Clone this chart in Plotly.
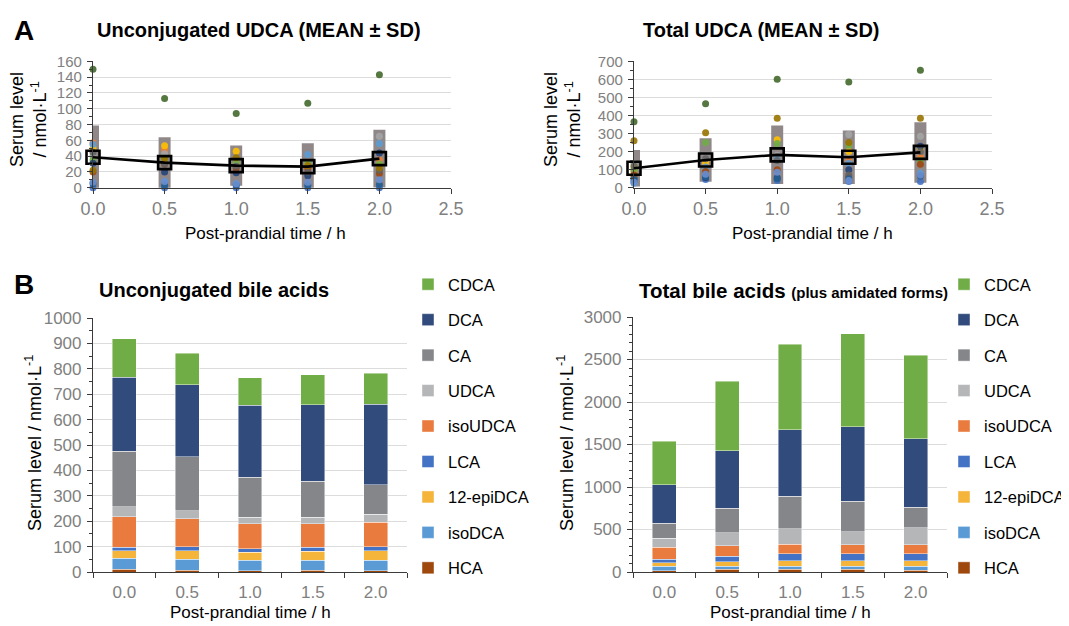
import plotly.graph_objects as go

# The page places the figure 8 px from the top-left corner of the window,
# so the figure is sized to fill the rest of the 1069x626 window exactly.
OFF = 8
W, H = 1069 - OFF, 626 - OFF

# ---------------- data ----------------
times = [0.0, 0.5, 1.0, 1.5, 2.0]
time_labels = ["0.0", "0.5", "1.0", "1.5", "2.0"]

subject_colors = ["#4472C4", "#ED7D31", "#A5A5A5", "#FFC000", "#5B9BD5", "#70AD47",
                  "#264478", "#9E480E", "#636363", "#997300", "#255E91", "#698ED0", "#43682B"]

# Panel A (left): unconjugated UDCA, individual subjects (nmol/L)
unconj_udca_subjects = [
    [0, 0, 0, 0, 0],
    [57, 48, 30, 25, 35],
    [40, 43, 28, 30, 65],
    [50, 53, 46, 28, 28],
    [55, 8, 5, 42, 56],
    [35, 35, 32, 32, 30],
    [31, 20, 19, 15, 44],
    [20, 30, 25, 24, 18],
    [45, 30, 27, 20, 22],
    [22, 37, 38, 28, 25],
    [5, 3, 3, 3, 4],
    [7, 8, 5, 7, 10],
    [150, 113, 94, 107, 143],
]
unconj_udca_mean = [38.6, 31.8, 28.0, 26.7, 36.8]
unconj_udca_sd = [40.1, 32.2, 25.5, 29.7, 36.5]

# Panel A (right): total UDCA, individual subjects (nmol/L)
total_udca_subjects = [
    [35, 45, 40, 35, 35],
    [90, 130, 170, 150, 170],
    [135, 150, 180, 295, 285],
    [115, 140, 265, 200, 210],
    [25, 115, 160, 135, 80],
    [100, 250, 245, 235, 150],
    [55, 55, 55, 100, 230],
    [70, 90, 100, 60, 130],
    [120, 160, 150, 70, 200],
    [260, 305, 385, 250, 385],
    [45, 60, 50, 50, 65],
    [30, 75, 85, 40, 70],
    [365, 465, 600, 585, 650],
]
total_udca_mean = [108, 153.5, 182, 168.5, 195.5]
total_udca_sd = [101, 120.5, 162, 148.5, 167.5]

# Panel B: stacked bile acids (bottom -> top)
acids = ["HCA", "isoDCA", "12-epiDCA", "LCA", "isoUDCA", "UDCA", "CA", "DCA", "CDCA"]
acid_colors = ["#9E480E", "#5B9BD5", "#F5B43A", "#4472C4", "#E97B3E", "#B5B6B8",
               "#85868A", "#324B7D", "#70AD47"]

unconj_HCA = [10, 7, 5, 7, 4]
unconj_isoDCA = [44, 43, 42, 40, 43]
unconj_12epiDCA = [30, 34, 30, 34, 37]
unconj_LCA = [14, 16, 14, 16, 16]
unconj_isoUDCA = [120, 109, 99, 93, 96]
unconj_UDCA = [39, 32, 25, 25, 32]
unconj_CA = [218, 212, 158, 142, 116]
unconj_DCA = [291, 285, 283, 302, 317]
unconj_CDCA = [153, 124, 108, 118, 122]
unconj_values = [unconj_HCA, unconj_isoDCA, unconj_12epiDCA, unconj_LCA, unconj_isoUDCA,
                 unconj_UDCA, unconj_CA, unconj_DCA, unconj_CDCA]

total_HCA = [16, 31, 31, 31, 20]
total_isoDCA = [51, 36, 36, 36, 47]
total_12epiDCA = [39, 51, 66, 66, 66]
total_LCA = [47, 66, 79, 79, 79]
total_isoUDCA = [137, 126, 117, 110, 110]
total_UDCA = [110, 149, 181, 153, 196]
total_CA = [176, 294, 380, 356, 243]
total_DCA = [451, 674, 785, 875, 808]
total_CDCA = [510, 820, 1003, 1098, 980]
total_values = [total_HCA, total_isoDCA, total_12epiDCA, total_LCA, total_isoUDCA,
                total_UDCA, total_CA, total_DCA, total_CDCA]

# ---------------- figure ----------------
FONT = "Liberation Sans, Arial, sans-serif"
TICK_GRAY = "#808080"
AX_LINE = "#3A3A3A"
GRID = "#DCDCDC"

fig = go.Figure()


def px_x(p):
    return (p - OFF) / W


def px_y(p):
    return 1 - (p - OFF) / H


def add_panel_a(subjects, means, sds, xa, ya):
    # SD range bars (drawn as thick vertical segments)
    bx, by = [], []
    for t, m, s in zip(times, means, sds):
        bx += [t, t, None]
        by += [m - s, m + s, None]
    fig.add_trace(go.Scatter(x=bx, y=by, mode="lines", xaxis=xa, yaxis=ya,
                             line=dict(color="rgb(144,136,136)", width=12),
                             showlegend=False, hoverinfo="skip"))
    for vals, col in zip(subjects, subject_colors):
        fig.add_trace(go.Scatter(x=times, y=vals, mode="markers", xaxis=xa, yaxis=ya,
                                 marker=dict(color=col, size=7, opacity=0.9),
                                 cliponaxis=False, showlegend=False))
    fig.add_trace(go.Scatter(x=times, y=means, mode="lines+markers", xaxis=xa, yaxis=ya,
                             line=dict(color="black", width=2.6),
                             marker=dict(symbol="square-open", size=13, color="black",
                                         line=dict(width=2.6, color="black")),
                             cliponaxis=False, showlegend=False))


add_panel_a(unconj_udca_subjects, unconj_udca_mean, unconj_udca_sd, "x", "y")
add_panel_a(total_udca_subjects, total_udca_mean, total_udca_sd, "x2", "y2")

for i, (name, col, vals) in enumerate(zip(acids, acid_colors, unconj_values)):
    fig.add_trace(go.Bar(x=time_labels, y=vals, name=name, xaxis="x3", yaxis="y3",
                         marker=dict(color=col, line=dict(color="rgba(255,255,255,0.55)", width=0.8)),
                         legend="legend", legendgroup="L" + name, legendrank=100 - i))
for i, (name, col, vals) in enumerate(zip(acids, acid_colors, total_values)):
    fig.add_trace(go.Bar(x=time_labels, y=vals, name=name, xaxis="x4", yaxis="y4",
                         marker=dict(color=col, line=dict(color="rgba(255,255,255,0.55)", width=0.8)),
                         legend="legend2", legendgroup="R" + name, legendrank=100 - i))


def xnum(domain, anchor):
    return dict(domain=domain, anchor=anchor, range=[0, 2.5], dtick=0.5, tick0=0,
                tickformat=".1f", showgrid=False, zeroline=False, automargin=False,
                showline=True, linecolor=AX_LINE, linewidth=1.2,
                ticks="outside", ticklen=5, tickcolor=AX_LINE,
                tickfont=dict(family=FONT, size=18, color=TICK_GRAY),
                ticklabelstandoff=0)


def yax(domain, anchor, rng, dtick, minor, size):
    return dict(domain=domain, anchor=anchor, range=rng, dtick=dtick, tick0=0,
                showgrid=True, gridcolor=GRID, gridwidth=1, zeroline=False, automargin=False,
                showline=True, linecolor=AX_LINE, linewidth=1.2,
                ticks="outside", ticklen=5, tickcolor=AX_LINE,
                minor=dict(dtick=minor, ticks="outside", ticklen=3, tickcolor=AX_LINE, showgrid=False),
                tickfont=dict(family=FONT, size=size, color=TICK_GRAY),
                ticklabelstandoff=2)


def xcat(domain, anchor):
    return dict(domain=domain, anchor=anchor, type="category", automargin=False,
                showgrid=False, zeroline=False,
                showline=True, linecolor=AX_LINE, linewidth=1.2,
                ticks="outside", ticklen=5, tickcolor=AX_LINE, tickson="boundaries",
                tickfont=dict(family=FONT, size=17, color=TICK_GRAY),
                ticklabelstandoff=4)


top_dom = [px_y(187.7), px_y(61.3)]
fig.update_layout(
    width=W, height=H,
    margin=dict(l=0, r=0, t=0, b=0, pad=0, autoexpand=False),
    paper_bgcolor="white", plot_bgcolor="white",
    font=dict(family=FONT, color="black"),
    barmode="stack", bargap=0.62,
    xaxis=xnum([px_x(93), px_x(451)], "y"),
    yaxis=yax(top_dom, "x", [0, 160], 20, 10, 15),
    xaxis2=xnum([px_x(634), px_x(992)], "y2"),
    yaxis2=yax(top_dom, "x2", [0, 700], 100, 50, 15),
    xaxis3=xcat([px_x(93), px_x(407)], "y3"),
    yaxis3=yax([px_y(572), px_y(318)], "x3", [0, 1000], 100, 50, 17),
    xaxis4=xcat([px_x(633), px_x(947)], "y4"),
    yaxis4=yax([px_y(572), px_y(317)], "x4", [0, 3000], 500, 100, 17),
    legend=dict(x=px_x(408), y=px_y(267), xanchor="left", yanchor="top",
                traceorder="grouped", tracegroupgap=11,
                font=dict(family=FONT, size=16.5, color="black"),
                itemwidth=30, bgcolor="rgba(0,0,0,0)"),
    legend2=dict(x=px_x(944), y=px_y(267), xanchor="left", yanchor="top",
                 traceorder="grouped", tracegroupgap=11,
                 font=dict(family=FONT, size=16.5, color="black"),
                 itemwidth=30, bgcolor="rgba(0,0,0,0)"),
)

ann = []


def A(text, x, y, size, bold=False, angle=0, xanchor="center", color="black"):
    t = "<b>%s</b>" % text if bold else text
    ann.append(dict(text=t, x=px_x(x), y=px_y(y), xref="paper", yref="paper",
                    xanchor=xanchor, yanchor="middle", showarrow=False, textangle=angle,
                    font=dict(family=FONT, size=size, color=color)))


A("A", 12, 30, 28, bold=True, xanchor="left")
A("B", 12, 285, 28, bold=True, xanchor="left")
A("Unconjugated UDCA (MEAN ± SD)", 95, 30, 20, bold=True, xanchor="left")
A("Total UDCA (MEAN ± SD)", 641, 30, 20, bold=True, xanchor="left")
A("Unconjugated bile acids", 97, 290, 20, bold=True, xanchor="left")
A("Total bile acids <span style='font-size:15px'>(plus amidated forms)</span>", 637, 290, 20.5,
  bold=True, xanchor="left")
A("Post-prandial time / h", 265, 233, 17)
A("Post-prandial time / h", 812, 233, 17)
A("Post-prandial time / h", 250, 612, 17)
A("Post-prandial time / h", 790, 612, 17)
A("Serum level<br>/ nmol·L<sup>-1</sup>", 28, 120, 18, angle=-90)
A("Serum level<br>/ nmol·L<sup>-1</sup>", 562, 120, 18, angle=-90)
A("Serum level / nmol·L<sup>-1</sup>", 33, 443, 18, angle=-90)
A("Serum level / nmol·L<sup>-1</sup>", 565, 443, 18, angle=-90)
fig.update_layout(annotations=ann)

fig.write_html("out.html")
